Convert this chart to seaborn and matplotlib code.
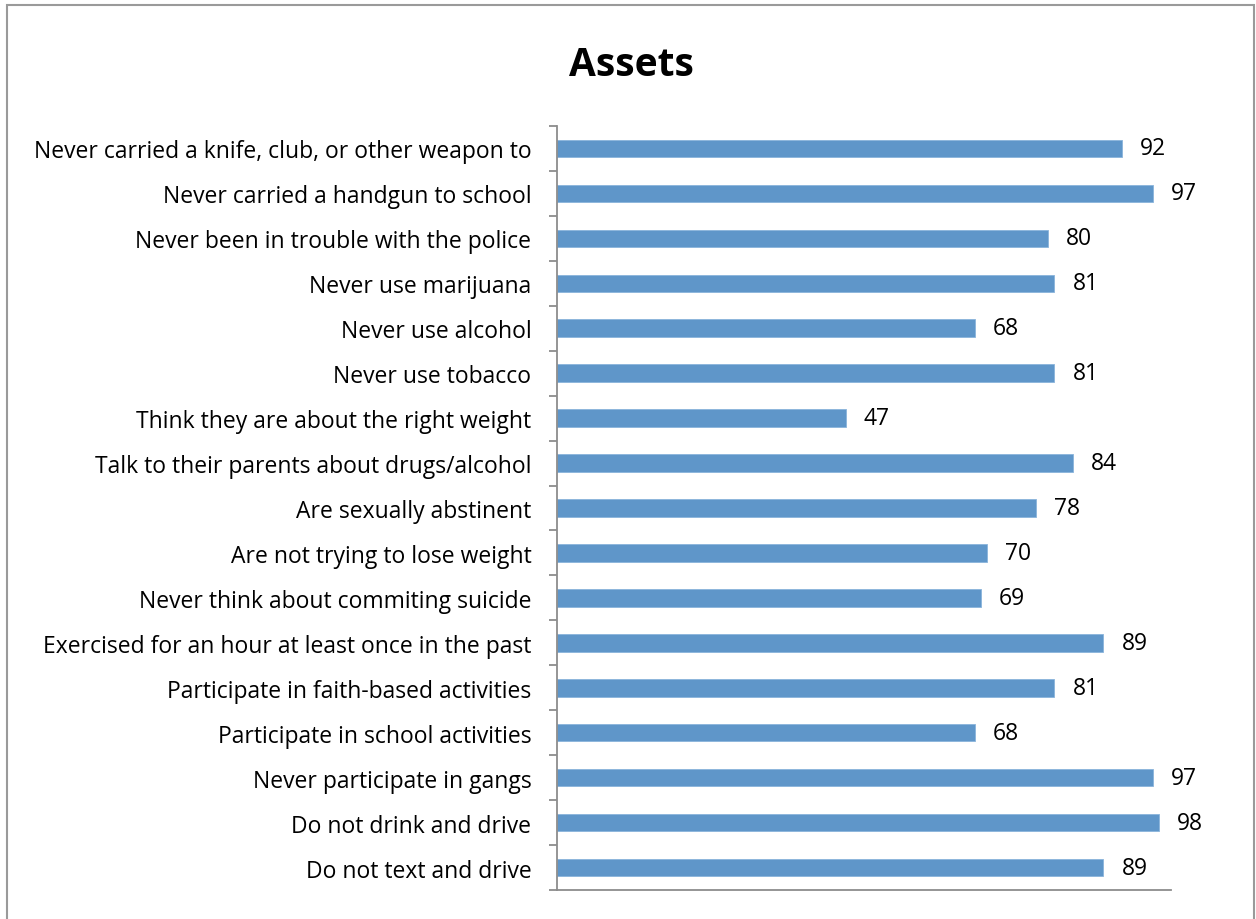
import matplotlib
matplotlib.use("Agg")
import matplotlib.pyplot as plt
import seaborn as sns
import pandas as pd
import numpy as np
from matplotlib.patches import Rectangle

categories = [
    "Never carried a knife, club, or other weapon to",
    "Never carried a handgun to school",
    "Never been in trouble with the police",
    "Never use marijuana",
    "Never use alcohol",
    "Never use tobacco",
    "Think they are about the right weight",
    "Talk to their parents about drugs/alcohol",
    "Are sexually abstinent",
    "Are not trying to lose weight",
    "Never think about commiting suicide",
    "Exercised for an hour at least once in the past",
    "Participate in faith-based activities",
    "Participate in school activities",
    "Never participate in gangs",
    "Do not drink and drive",
    "Do not text and drive",
]
values = [92, 97, 80, 81, 68, 81, 47, 84, 78, 70, 69, 89, 81, 68, 97, 98, 89]
title = "Assets"

sns.set_theme(style="white")
plt.rcParams['font.family'] = ['Open Sans', 'DejaVu Sans']

df = pd.DataFrame({"label": categories, "value": values})

fig = plt.figure(figsize=(12.56, 9.2), dpi=100)
ax = fig.add_axes([557/1256, 1-891/920, (1171-557)/1256, (891-127)/920])

sns.barplot(data=df, x="value", y="label", orient="h", color="#5F96C9",
            width=0.39, saturation=1, ax=ax, edgecolor="#8AB4DB", linewidth=0.6)

ax.set_xlim(0, 100)
ax.set_ylim(len(categories) - 0.5, -0.5)
ax.set_xlabel("")
ax.set_ylabel("")
ax.set_xticks([])

for s in ["top", "right"]:
    ax.spines[s].set_visible(False)
for s in ["left", "bottom"]:
    ax.spines[s].set_color("#8C8C8C")
    ax.spines[s].set_linewidth(1.3)

ax.tick_params(axis="y", which="major", length=0, pad=18.5, labelsize=16.5, labelcolor="black")
ax.set_yticks(np.arange(-0.5, len(categories) + 0.5, 1), minor=True)
ax.tick_params(axis="y", which="minor", length=6, width=1.3, color="#8C8C8C", left=True)

for i, c in enumerate(ax.containers):
    ax.bar_label(c, labels=[str(v) for v in values], padding=13, fontsize=16.5, color="black")

fig.suptitle(title, x=631/1256, y=1-66/920, va="center", fontsize=28,
             fontweight="bold", color="black")

fig.patches.append(Rectangle((7/1256, -0.1), (1254-7)/1256, 1.1 - 6/920,
                             transform=fig.transFigure, fill=False,
                             edgecolor="#9A9A9A", linewidth=1.5))

fig.savefig("out.png", dpi=100)
